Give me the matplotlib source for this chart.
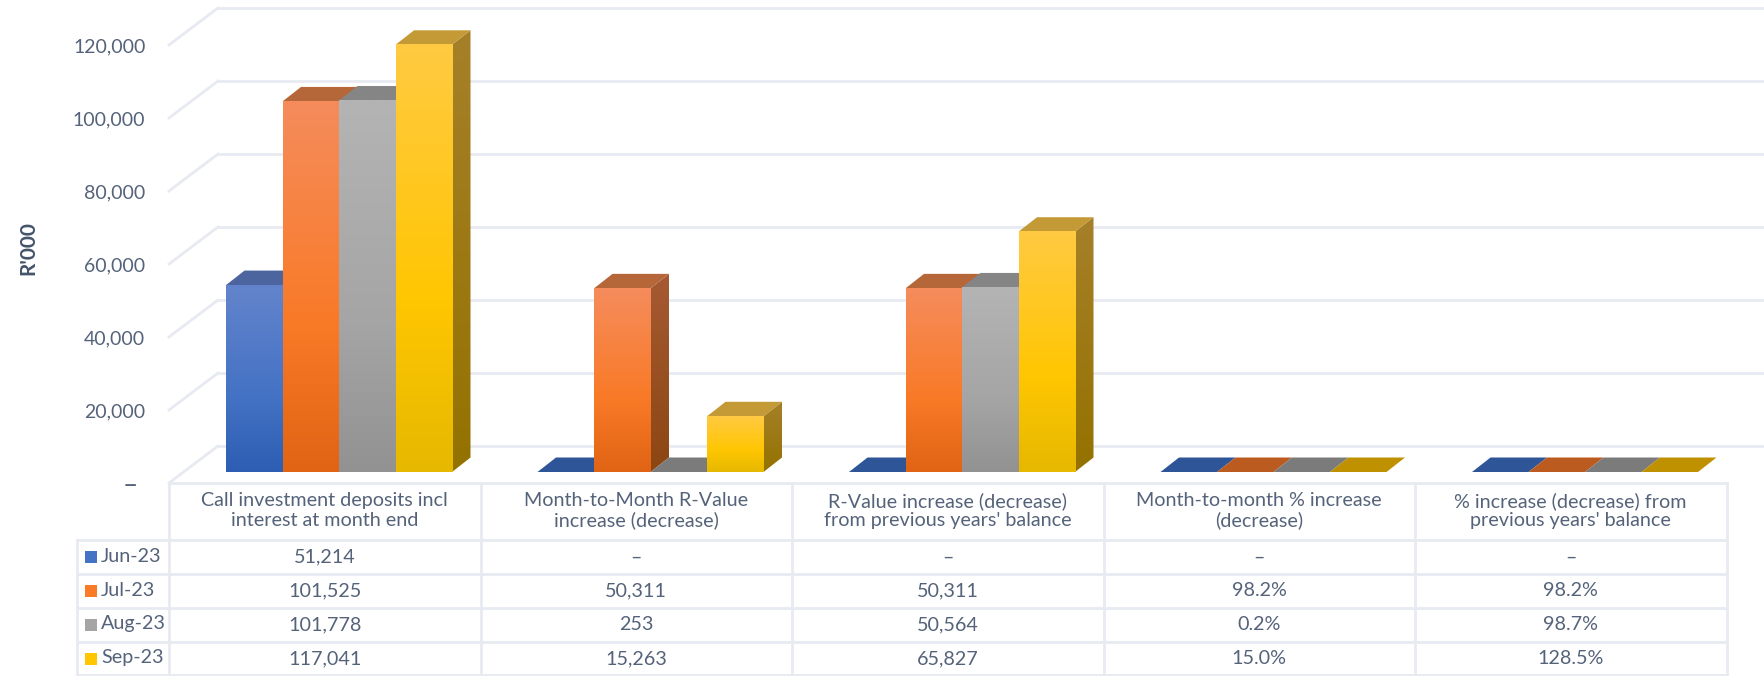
import numpy as np
import matplotlib
matplotlib.use('Agg')
import matplotlib.pyplot as plt
from matplotlib.colors import LinearSegmentedColormap
from matplotlib.patches import Polygon, Rectangle

plt.rcParams['font.family'] = ['Lato', 'DejaVu Sans']

categories = ["Call investment deposits incl\ninterest at month end",
              "Month-to-Month R-Value\nincrease (decrease)",
              "R-Value increase (decrease)\nfrom previous years' balance",
              "Month-to-month % increase\n(decrease)",
              "% increase (decrease) from\nprevious years' balance"]
months = ['Jun-23', 'Jul-23', 'Aug-23', 'Sep-23']
jun = [51214, 0, 0, 0, 0]
jul = [101525, 50311, 50311, 0.982, 0.982]
aug = [101778, 253, 50564, 0.002, 0.987]
sep = [117041, 15263, 65827, 0.150, 1.285]
series = [jun, jul, aug, sep]
yticks = [0, 20000, 40000, 60000, 80000, 100000, 120000]
ylabels = ['– ', '20,000', '40,000', '60,000', '80,000', '100,000', '120,000']

# front gradient (top, middle, bottom), side (top, bottom), top face
front_cols = [('#6384cc', '#4472c4', '#2d5eb3'),
              ('#f58c5c', '#f97a27', '#e06414'),
              ('#b4b4b4', '#a5a5a5', '#929292'),
              ('#ffca42', '#ffc602', '#e6b800')]
side_cols = [('#4a6496', '#2b4f8c'),
             ('#a65a33', '#8c4612'),
             ('#7f7f7f', '#666666'),
             ('#a68029', '#947200')]
top_cols = ['#4d659f', '#b5673a', '#858585', '#c39a35']
flat_cols = ['#2e5597', '#bc5b1f', '#7b7b7b', '#bf9000']
grid_col = '#e7eaf1'
text_col = '#55637a'

W, H = 1764, 676
fig = plt.figure(figsize=(W / 100, H / 100), dpi=100)

# pixel scales of the plot box
x0, col_w = 169, 311.5
base_px = 483
px_per_val = 73 / 20000
ax = fig.add_axes([x0 / W, 1 - base_px / H, 5 * col_w / W, base_px / H])
ax.patch.set_visible(False)
for s in ax.spines.values():
    s.set_visible(False)
ax.set_xticks([])
ax.set_yticks(yticks, ylabels, color=text_col, fontsize=14)
ax.tick_params(axis='y', length=0, pad=17)
ax.get_yticklabels()[0].set_fontsize(19)

px_x = 1 / col_w
px_y = 1 / px_per_val
back_dx, back_dy = 49 * px_x, 37 * px_y

# walls
for t in yticks:
    ax.plot([0, back_dx], [t, t + back_dy], color=grid_col, lw=2, clip_on=False, zorder=1)
    ax.plot([back_dx, 5.3], [t + back_dy, t + back_dy], color=grid_col, lw=2, clip_on=False, zorder=1)

bar_w = 56.5 * px_x
off_x = 57 * px_x
off_y = 11 * px_y
d_x, d_y = 18.5 * px_x, 14.5 * px_y


def gradient(colors, extent, z, stops=(0, 0.6, 1), clip=None):
    cmap = LinearSegmentedColormap.from_list('g', list(zip(stops, colors)))
    g = np.linspace(0, 1, 256).reshape(-1, 1)
    im = ax.imshow(g, cmap=cmap, extent=extent, aspect='auto', origin='upper',
                   interpolation='bilinear', zorder=z)
    im.set_clip_on(True)
    if clip is not None:
        im.set_clip_path(clip)
    return im


z = 2
for c in range(len(categories)):
    for i, vals in enumerate(series):
        xl = c + off_x + i * bar_w
        xr = xl + bar_w
        b = off_y
        top = b + vals[c]
        if vals[c] * px_per_val < 1:
            ax.add_patch(Polygon([(xl, b), (xr, b), (xr + d_x, b + d_y), (xl + d_x, b + d_y)],
                                 fc=flat_cols[i], ec='none', zorder=z))
            z += 1
            continue
        # side
        side = Polygon([(xr, b), (xr + d_x, b + d_y), (xr + d_x, top + d_y), (xr, top)],
                       fc='none', ec='none', zorder=z, transform=ax.transData)
        ax.add_patch(side)
        gradient(side_cols[i], (xr, xr + d_x, b, top + d_y), z, stops=(0, 1), clip=side)
        z += 1
        # top
        ax.add_patch(Polygon([(xl, top), (xr, top), (xr + d_x, top + d_y), (xl + d_x, top + d_y)],
                             fc=top_cols[i], ec='none', zorder=z))
        z += 1
        # front
        gradient(front_cols[i], (xl, xr, b, top), z)
        z += 1

ax.set_xlim(0, 5)
ax.set_ylim(0, base_px * px_y)
ax.text(-141 * px_x, 235 * px_y, "R'000", rotation=90, ha='center', va='center',
        color='#44546a', fontsize=15, fontweight='bold')

# table drawn in figure pixels
tb = fig.add_axes([0, 0, 1, 1])
tb.set_xlim(0, W)
tb.set_ylim(H, 0)
tb.axis('off')
tb.patch.set_visible(False)

col_x = [x0 + k * col_w for k in range(6)]
row_y = [483, 540, 574, 608, 642, 675]
leg_x = 77
tb.plot([col_x[0], col_x[-1]], [row_y[0]] * 2, color=grid_col, lw=2)
for y in row_y[1:]:
    tb.plot([leg_x, col_x[-1]], [y, y], color=grid_col, lw=2)
tb.plot([leg_x, leg_x], [row_y[1], row_y[-1]], color=grid_col, lw=2)
for x in col_x:
    tb.plot([x, x], [row_y[0], row_y[-1]], color=grid_col, lw=2)

for c, name in enumerate(categories):
    tb.text(col_x[c] + col_w / 2, (row_y[0] + row_y[1]) / 2 - 1, name, ha='center', va='center',
            color=text_col, fontsize=14.2, linespacing=1.15)


def fmt(v, c):
    if v == 0:
        return '–'
    if c >= 3:
        return f'{v * 100:.1f}%'
    return f'{v:,.0f}'


for i, vals in enumerate(series):
    yc = (row_y[i + 1] + row_y[i + 2]) / 2
    tb.add_patch(Rectangle((85, yc - 6), 12, 12, fc=front_cols[i][1], ec='none'))
    tb.text(101, yc - 1, months[i], ha='left', va='center', color=text_col, fontsize=14.2)
    for c in range(len(categories)):
        tb.text(col_x[c] + col_w / 2, yc, fmt(vals[c], c), ha='center', va='center',
                color=text_col, fontsize=14.2)

fig.savefig('out.png', dpi=100)
